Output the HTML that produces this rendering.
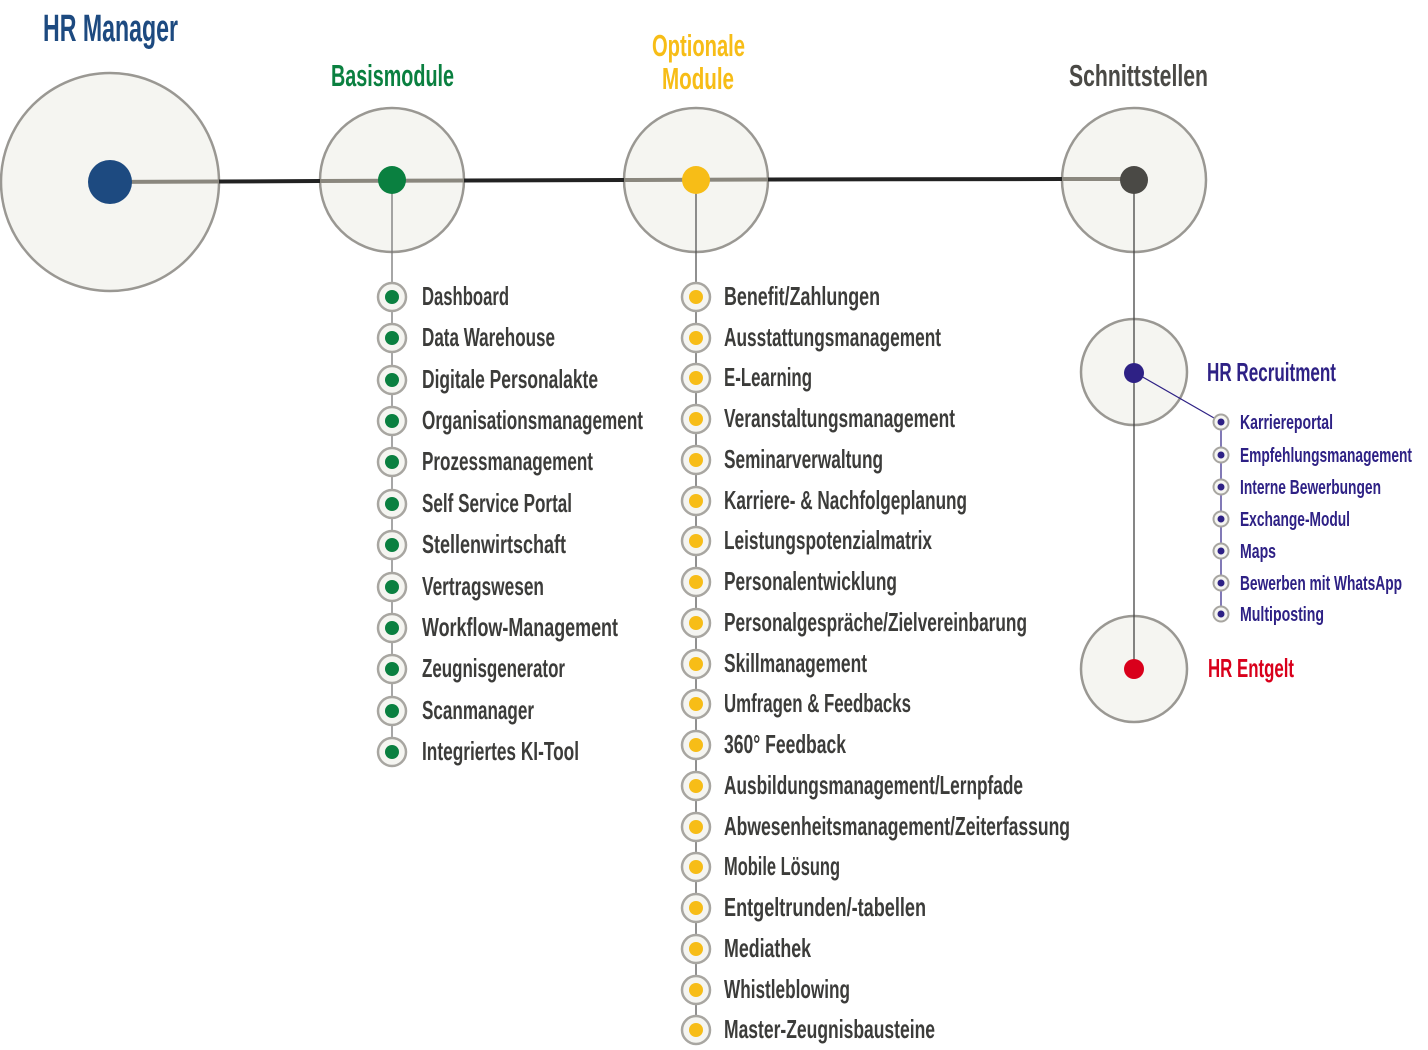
<!DOCTYPE html>
<html><head><meta charset="utf-8"><style>
html,body{margin:0;padding:0;background:#fff;}
svg{display:block;}
text{font-family:"Liberation Sans Narrow","Liberation Sans",sans-serif;font-weight:bold;}
.it{font-size:26px;fill:#3c3c3a;}
.rc{font-size:20px;fill:#2e2185;}
</style></head><body>
<svg width="1428" height="1050" viewBox="0 0 1428 1050" xmlns="http://www.w3.org/2000/svg">
<g fill="#f5f5f1" stroke="#9a9893" stroke-width="2.5">
<circle cx="110" cy="182" r="109"/>
<circle cx="392" cy="180" r="72"/>
<circle cx="696" cy="180" r="72"/>
<circle cx="1134" cy="180" r="72"/>
<circle cx="1134" cy="372" r="53"/>
<circle cx="1134" cy="669" r="53"/>
</g>
<line x1="219" y1="181.5" x2="320" y2="181" stroke="#222" stroke-width="4"/>
<line x1="464" y1="180.5" x2="624" y2="180" stroke="#222" stroke-width="4"/>
<line x1="768" y1="179.5" x2="1062" y2="179" stroke="#222" stroke-width="4"/>
<g stroke="#8a877e" stroke-width="4">
<line x1="110" y1="182" x2="219" y2="181.5"/>
<line x1="320" y1="181" x2="464" y2="180.5"/>
<line x1="624" y1="180" x2="768" y2="179.5"/>
<line x1="1062" y1="179" x2="1134" y2="179"/>
</g>
<line x1="392" y1="180" x2="392" y2="752" stroke="#777" stroke-width="1.3"/>
<line x1="696" y1="180" x2="696" y2="1030" stroke="#555" stroke-width="1.3"/>
<line x1="1134" y1="180" x2="1134" y2="669" stroke="#444" stroke-width="1.3"/>
<line x1="1134" y1="372" x2="1221" y2="422" stroke="#2e2185" stroke-width="1.2"/>
<line x1="1221" y1="422" x2="1221" y2="614" stroke="#2e2185" stroke-width="1.2"/>
<circle cx="110" cy="182" r="22" fill="#1d4a80"/>
<circle cx="392" cy="180" r="14" fill="#0a8040"/>
<circle cx="696" cy="180" r="14" fill="#f7bd17"/>
<circle cx="1134" cy="180" r="14" fill="#4a4945"/>
<circle cx="1134" cy="373" r="10" fill="#2e2185"/>
<circle cx="1134" cy="669" r="10" fill="#d9001b"/>
<text x="43" y="41" font-size="38" fill="#1d4a80" textLength="135" lengthAdjust="spacingAndGlyphs">HR Manager</text>
<text x="331" y="86" font-size="31" fill="#0a8040" textLength="123" lengthAdjust="spacingAndGlyphs">Basismodule</text>
<text x="652" y="56" font-size="31" fill="#f7bd17" textLength="93" lengthAdjust="spacingAndGlyphs">Optionale</text>
<text x="662" y="89" font-size="31" fill="#f7bd17" textLength="72" lengthAdjust="spacingAndGlyphs">Module</text>
<text x="1069" y="86" font-size="31" fill="#4a4945" textLength="139" lengthAdjust="spacingAndGlyphs">Schnittstellen</text>
<text x="1207" y="381" font-size="26" fill="#2e2185" textLength="129" lengthAdjust="spacingAndGlyphs">HR Recruitment</text>
<text x="1208" y="677" font-size="26" fill="#d9001b" textLength="86" lengthAdjust="spacingAndGlyphs">HR Entgelt</text>

<g fill="#f5f5f1" stroke="#a8a6a1" stroke-width="2.5">
<circle cx="392" cy="297" r="14"/><circle cx="392" cy="338" r="14"/><circle cx="392" cy="380" r="14"/><circle cx="392" cy="421" r="14"/><circle cx="392" cy="462" r="14"/><circle cx="392" cy="504" r="14"/><circle cx="392" cy="545" r="14"/><circle cx="392" cy="587" r="14"/><circle cx="392" cy="628" r="14"/><circle cx="392" cy="669" r="14"/><circle cx="392" cy="711" r="14"/><circle cx="392" cy="752" r="14"/>
</g>
<g fill="#0a8040">
<circle cx="392" cy="297" r="7"/><circle cx="392" cy="338" r="7"/><circle cx="392" cy="380" r="7"/><circle cx="392" cy="421" r="7"/><circle cx="392" cy="462" r="7"/><circle cx="392" cy="504" r="7"/><circle cx="392" cy="545" r="7"/><circle cx="392" cy="587" r="7"/><circle cx="392" cy="628" r="7"/><circle cx="392" cy="669" r="7"/><circle cx="392" cy="711" r="7"/><circle cx="392" cy="752" r="7"/>
</g>
<text class="it" x="422" y="305" textLength="87" lengthAdjust="spacingAndGlyphs">Dashboard</text>
<text class="it" x="422" y="346" textLength="133" lengthAdjust="spacingAndGlyphs">Data Warehouse</text>
<text class="it" x="422" y="388" textLength="176" lengthAdjust="spacingAndGlyphs">Digitale Personalakte</text>
<text class="it" x="422" y="429" textLength="221" lengthAdjust="spacingAndGlyphs">Organisationsmanagement</text>
<text class="it" x="422" y="470" textLength="171" lengthAdjust="spacingAndGlyphs">Prozessmanagement</text>
<text class="it" x="422" y="512" textLength="150" lengthAdjust="spacingAndGlyphs">Self Service Portal</text>
<text class="it" x="422" y="553" textLength="144" lengthAdjust="spacingAndGlyphs">Stellenwirtschaft</text>
<text class="it" x="422" y="595" textLength="122" lengthAdjust="spacingAndGlyphs">Vertragswesen</text>
<text class="it" x="422" y="636" textLength="196" lengthAdjust="spacingAndGlyphs">Workflow-Management</text>
<text class="it" x="422" y="677" textLength="143" lengthAdjust="spacingAndGlyphs">Zeugnisgenerator</text>
<text class="it" x="422" y="719" textLength="112" lengthAdjust="spacingAndGlyphs">Scanmanager</text>
<text class="it" x="422" y="760" textLength="157" lengthAdjust="spacingAndGlyphs">Integriertes KI-Tool</text>

<g fill="#f5f5f1" stroke="#a8a6a1" stroke-width="2.5">
<circle cx="696" cy="297" r="14"/><circle cx="696" cy="338" r="14"/><circle cx="696" cy="378" r="14"/><circle cx="696" cy="419" r="14"/><circle cx="696" cy="460" r="14"/><circle cx="696" cy="501" r="14"/><circle cx="696" cy="541" r="14"/><circle cx="696" cy="582" r="14"/><circle cx="696" cy="623" r="14"/><circle cx="696" cy="664" r="14"/><circle cx="696" cy="704" r="14"/><circle cx="696" cy="745" r="14"/><circle cx="696" cy="786" r="14"/><circle cx="696" cy="827" r="14"/><circle cx="696" cy="867" r="14"/><circle cx="696" cy="908" r="14"/><circle cx="696" cy="949" r="14"/><circle cx="696" cy="990" r="14"/><circle cx="696" cy="1030" r="14"/>
</g>
<g fill="#f7bd17">
<circle cx="696" cy="297" r="7"/><circle cx="696" cy="338" r="7"/><circle cx="696" cy="378" r="7"/><circle cx="696" cy="419" r="7"/><circle cx="696" cy="460" r="7"/><circle cx="696" cy="501" r="7"/><circle cx="696" cy="541" r="7"/><circle cx="696" cy="582" r="7"/><circle cx="696" cy="623" r="7"/><circle cx="696" cy="664" r="7"/><circle cx="696" cy="704" r="7"/><circle cx="696" cy="745" r="7"/><circle cx="696" cy="786" r="7"/><circle cx="696" cy="827" r="7"/><circle cx="696" cy="867" r="7"/><circle cx="696" cy="908" r="7"/><circle cx="696" cy="949" r="7"/><circle cx="696" cy="990" r="7"/><circle cx="696" cy="1030" r="7"/>
</g>
<text class="it" x="724" y="305" textLength="156" lengthAdjust="spacingAndGlyphs">Benefit/Zahlungen</text>
<text class="it" x="724" y="346" textLength="217" lengthAdjust="spacingAndGlyphs">Ausstattungsmanagement</text>
<text class="it" x="724" y="386" textLength="88" lengthAdjust="spacingAndGlyphs">E-Learning</text>
<text class="it" x="724" y="427" textLength="231" lengthAdjust="spacingAndGlyphs">Veranstaltungsmanagement</text>
<text class="it" x="724" y="468" textLength="159" lengthAdjust="spacingAndGlyphs">Seminarverwaltung</text>
<text class="it" x="724" y="509" textLength="243" lengthAdjust="spacingAndGlyphs">Karriere- &amp; Nachfolgeplanung</text>
<text class="it" x="724" y="549" textLength="208" lengthAdjust="spacingAndGlyphs">Leistungspotenzialmatrix</text>
<text class="it" x="724" y="590" textLength="173" lengthAdjust="spacingAndGlyphs">Personalentwicklung</text>
<text class="it" x="724" y="631" textLength="303" lengthAdjust="spacingAndGlyphs">Personalgespräche/Zielvereinbarung</text>
<text class="it" x="724" y="672" textLength="143" lengthAdjust="spacingAndGlyphs">Skillmanagement</text>
<text class="it" x="724" y="712" textLength="187" lengthAdjust="spacingAndGlyphs">Umfragen &amp; Feedbacks</text>
<text class="it" x="724" y="753" textLength="122" lengthAdjust="spacingAndGlyphs">360° Feedback</text>
<text class="it" x="724" y="794" textLength="299" lengthAdjust="spacingAndGlyphs">Ausbildungsmanagement/Lernpfade</text>
<text class="it" x="724" y="835" textLength="346" lengthAdjust="spacingAndGlyphs">Abwesenheitsmanagement/Zeiterfassung</text>
<text class="it" x="724" y="875" textLength="116" lengthAdjust="spacingAndGlyphs">Mobile Lösung</text>
<text class="it" x="724" y="916" textLength="202" lengthAdjust="spacingAndGlyphs">Entgeltrunden/-tabellen</text>
<text class="it" x="724" y="957" textLength="87" lengthAdjust="spacingAndGlyphs">Mediathek</text>
<text class="it" x="724" y="998" textLength="126" lengthAdjust="spacingAndGlyphs">Whistleblowing</text>
<text class="it" x="724" y="1038" textLength="211" lengthAdjust="spacingAndGlyphs">Master-Zeugnisbausteine</text>

<g fill="#f5f5f1" stroke="#a8a6a1" stroke-width="2">
<circle cx="1221" cy="422" r="7.5"/><circle cx="1221" cy="455" r="7.5"/><circle cx="1221" cy="487" r="7.5"/><circle cx="1221" cy="519" r="7.5"/><circle cx="1221" cy="551" r="7.5"/><circle cx="1221" cy="583" r="7.5"/><circle cx="1221" cy="614" r="7.5"/>
</g>
<g fill="#2e2185">
<circle cx="1221" cy="422" r="3.5"/><circle cx="1221" cy="455" r="3.5"/><circle cx="1221" cy="487" r="3.5"/><circle cx="1221" cy="519" r="3.5"/><circle cx="1221" cy="551" r="3.5"/><circle cx="1221" cy="583" r="3.5"/><circle cx="1221" cy="614" r="3.5"/>
</g>
<text class="rc" x="1240" y="429" textLength="93" lengthAdjust="spacingAndGlyphs">Karriereportal</text>
<text class="rc" x="1240" y="462" textLength="172" lengthAdjust="spacingAndGlyphs">Empfehlungsmanagement</text>
<text class="rc" x="1240" y="494" textLength="141" lengthAdjust="spacingAndGlyphs">Interne Bewerbungen</text>
<text class="rc" x="1240" y="526" textLength="110" lengthAdjust="spacingAndGlyphs">Exchange-Modul</text>
<text class="rc" x="1240" y="558" textLength="36" lengthAdjust="spacingAndGlyphs">Maps</text>
<text class="rc" x="1240" y="590" textLength="162" lengthAdjust="spacingAndGlyphs">Bewerben mit WhatsApp</text>
<text class="rc" x="1240" y="621" textLength="84" lengthAdjust="spacingAndGlyphs">Multiposting</text>
</svg>
</body></html>
